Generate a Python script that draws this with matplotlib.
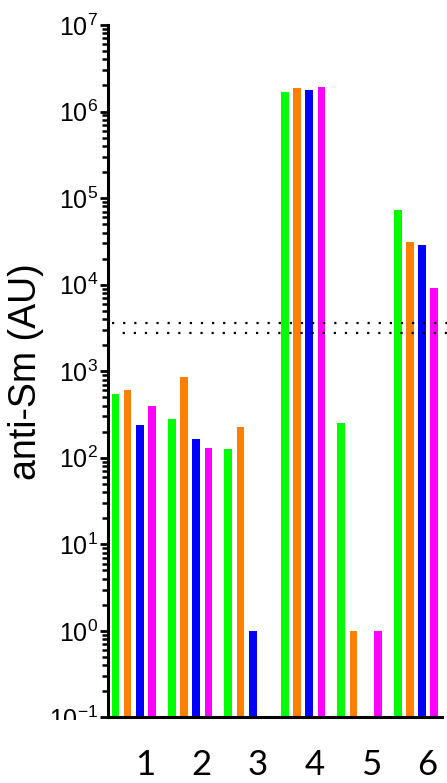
import numpy as np
import matplotlib
matplotlib.use('Agg')
from matplotlib import pyplot as plt
from matplotlib.transforms import Bbox, TransformedBbox

plt.rcParams['font.family'] = ['Liberation Sans', 'DejaVu Sans']
plt.rcParams['mathtext.fontset'] = 'custom'
plt.rcParams['mathtext.rm'] = 'Liberation Sans'

groups = ['1', '2', '3', '4', '5', '6']
series_colors = ['#00ff00', '#ff8000', '#0000ff', '#ff00ff']
# values per series (nan = no bar)
green = [543, 284, 127, 1.69e6, 253, 7.3e4]
orange = [611, 848, 224, 1.86e6, 1, 3.1e4]
blue = [242, 167, 1, 1.78e6, np.nan, 2.86e4]
magenta = [392, 129, np.nan, 1.94e6, 1, 9.25e3]
cutoffs = [3.6e3, 2.8e3]

series = [green, orange, blue, magenta]
ymin = 0.1

fig = plt.figure(figsize=(4.47, 7.83), dpi=100)
ax = fig.add_axes([0.2416, 0.0837, 0.7466, 0.8844])
ax.set_yscale('log')

x = np.arange(len(groups))
step = 0.216
width = 0.136
for k, (vals, col) in enumerate(zip(series, series_colors)):
    vals = np.array(vals, dtype=float)
    ax.bar(x + (k - 1.5) * step, vals - ymin, bottom=ymin, width=width,
           color=col, linewidth=0, zorder=2)

# dotted cutoff lines
ax.axhline(cutoffs[0], xmin=0.012, xmax=1.02, color='black', lw=1.6,
           linestyle=(0, (1, 4)), clip_on=False, zorder=3)
ax.axhline(cutoffs[1], xmin=0.025, xmax=1.02, color='black', lw=1.6,
           linestyle=(2, (1, 4)), clip_on=False, zorder=3)

ax.set_ylim(ymin, 1e7)
ax.set_xlim(-0.455, 5.455)

for s in ['top', 'right']:
    ax.spines[s].set_visible(False)
for s in ['left', 'bottom']:
    ax.spines[s].set_linewidth(2.2)

ax.set_xticks(x + 0.2)
ax.set_xticklabels(groups, fontsize=25, family=['Lato', 'DejaVu Sans'])
ax.tick_params(axis='x', length=0, pad=23)

ax.yaxis.set_major_locator(matplotlib.ticker.LogLocator(base=10, numticks=20))
ax.yaxis.set_minor_locator(matplotlib.ticker.LogLocator(base=10, subs=np.arange(2, 10), numticks=20))
ax.yaxis.set_minor_formatter(matplotlib.ticker.NullFormatter())
ax.tick_params(axis='y', which='major', length=6, width=2, labelsize=18, pad=1)
ax.tick_params(axis='y', which='minor', length=4, width=1.8)

ax.set_ylabel('anti-Sm (AU)', fontsize=27, labelpad=4)

# the lowest tick label is partly hidden below the axis line in the original
fig.canvas.draw()
clip = TransformedBbox(Bbox([[0, 1 - 720 / 783], [1, 1]]), fig.transFigure)
for lab in ax.get_yticklabels():
    if abs(lab.get_position()[1] - ymin) < 1e-9:
        lab.set_clip_box(clip)
        lab.set_clip_on(True)

fig.savefig('out.png', dpi=100)
